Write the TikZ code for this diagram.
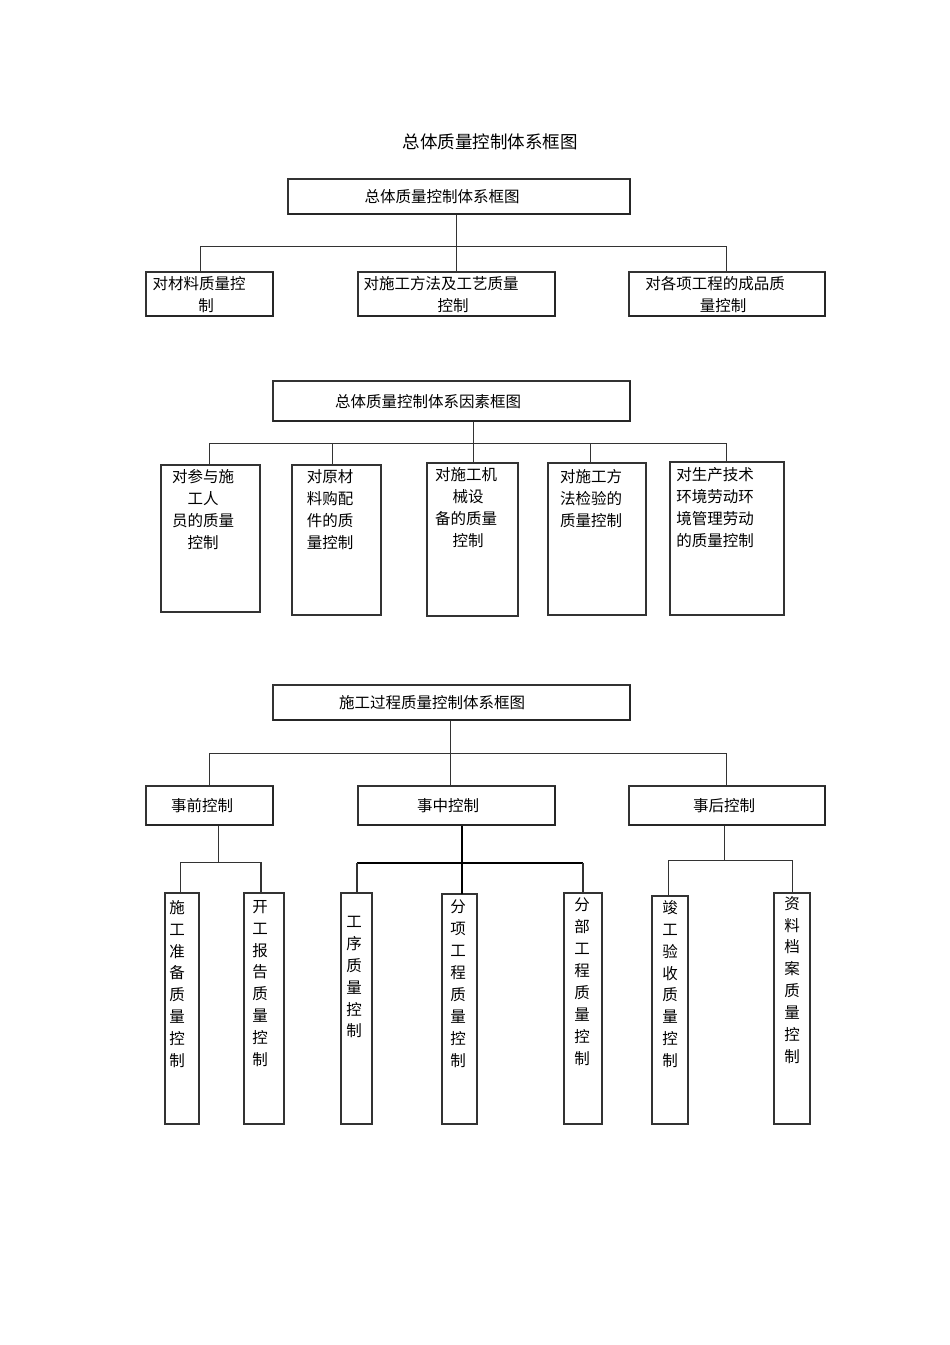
\documentclass[tikz,border=0pt]{standalone}
\usepackage{fontspec}
\newfontfamily\cjk{Noto Sans CJK SC}
\begin{document}
\begin{tikzpicture}[x=1pt,y=-1pt,
  box/.style={draw=black!80, line width=1.1pt, inner sep=0pt, outer sep=0pt},
  txt/.style={font=\cjk\fontsize{15.5}{22}\selectfont, inner sep=0pt, align=center},
  mtxt/.style={txt, anchor=north},
  vtxt/.style={font=\cjk\fontsize{15.5}{21.9}\selectfont, inner sep=0pt, align=center, anchor=north},
  ln/.style={draw=black!80, line width=1pt},
  bold ln/.style={draw=black, line width=2.6pt},
  edge/.style={draw=black!85, line width=2pt}
]
\fill[white] (0,0) rectangle (950,1345);
\useasboundingbox (0,0) rectangle (950,1345);

% title
\node[font=\cjk\fontsize{17.5}{20}\selectfont, inner sep=0pt] (title) at (490,141.5) {总体质量控制体系框图};

% ---------- section 1 ----------
\node[box, minimum width=342pt, minimum height=35pt] (A) at (459,196.5) {};
\node[box, minimum width=127pt, minimum height=44pt] (B1) at (209.5,294) {};
\node[box, minimum width=197pt, minimum height=44pt] (B2) at (456.5,294) {};
\node[box, minimum width=196pt, minimum height=44pt] (B3) at (727,294) {};

\node[txt] (tA) at (442,196.5) {总体质量控制体系框图};
\node[mtxt] (tB1) at (199,276) {对材料质量控\\\hspace*{14pt}制};
\node[mtxt] (tB2) at (441,276) {对施工方法及工艺质量\\\hspace*{24pt}控制};
\node[mtxt] (tB3) at (715,276) {对各项工程的成品质\\\hspace*{16pt}量控制};

\coordinate (j1) at (456,246);
\coordinate (h1l) at (200,246);
\coordinate (h1r) at (726,246);
\draw[ln] (A.south -| j1) -- (B2.north -| j1);
\draw[ln] (B1.north -| h1l) -- (h1l) -- (h1r) -- (B3.north -| h1r);

% ---------- section 2 ----------
\node[box, minimum width=357pt, minimum height=40pt] (C) at (451.5,401) {};
\node[box, minimum width=99pt, minimum height=147pt] (D1) at (210.5,538.5) {};
\node[box, minimum width=89pt, minimum height=150pt] (D2) at (336.5,540) {};
\node[box, minimum width=91pt, minimum height=153pt] (D3) at (472.5,539.5) {};
\node[box, minimum width=98pt, minimum height=152pt] (D4) at (597,539) {};
\node[box, minimum width=114pt, minimum height=153pt] (D5) at (727,538.5) {};

\node[txt] (tC) at (428,401.5) {总体质量控制体系因素框图};
\node[mtxt] (tD1) at (203,469) {对参与施\\工人\\员的质量\\控制};
\node[mtxt] (tD2) at (330,469) {对原材\\料购配\\件的质\\量控制};
\node[mtxt] (tD3) at (466,467) {对施工机\\\hspace*{4pt}械设\\备的质量\\\hspace*{4pt}控制};
\node[mtxt] (tD4) at (591,469) {对施工方\\法检验的\\质量控制};
\node[mtxt] (tD5) at (715,467) {对生产技术\\环境劳动环\\境管理劳动\\的质量控制};

\coordinate (j2) at (473,443);
\coordinate (h2l) at (209,443);
\coordinate (h2r) at (726,443);
\coordinate (d2) at (332,443);
\coordinate (d4) at (590,443);
\draw[ln] (C.south -| j2) -- (D3.north -| j2);
\draw[ln] (D1.north -| h2l) -- (h2l) -- (h2r) -- (D5.north -| h2r);
\draw[ln] (d2) -- (D2.north -| d2);
\draw[ln] (d4) -- (D4.north -| d4);

% ---------- section 3 ----------
\node[box, minimum width=357pt, minimum height=35pt] (E) at (451.5,702.5) {};
\node[box, minimum width=127pt, minimum height=39pt] (F1) at (209.5,805.5) {};
\node[box, minimum width=197pt, minimum height=39pt] (F2) at (456.5,805.5) {};
\node[box, minimum width=196pt, minimum height=39pt] (F3) at (727,805.5) {};

\node[txt] (tE) at (432,702.5) {施工过程质量控制体系框图};
\node[txt] (tF1) at (202,805.5) {事前控制};
\node[txt] (tF2) at (448,805.5) {事中控制};
\node[txt] (tF3) at (724,805.5) {事后控制};

\node[box, minimum width=34pt, minimum height=231pt] (G1) at (182,1008.5) {};
\node[box, minimum width=40pt, minimum height=231pt] (G2) at (264,1008.5) {};
\node[box, minimum width=31pt, minimum height=231pt] (G3) at (356.5,1008.5) {};
\node[box, minimum width=35pt, minimum height=230pt] (G4) at (459.5,1009) {};
\node[box, minimum width=38pt, minimum height=231pt] (G5) at (583,1008.5) {};
\node[box, minimum width=36pt, minimum height=228pt] (G6) at (670,1010) {};
\node[box, minimum width=36pt, minimum height=231pt] (G7) at (792,1008.5) {};

\node[vtxt] (tG1) at (177,900) {施\\工\\准\\备\\质\\量\\控\\制};
\node[vtxt] (tG2) at (260,900) {开\\工\\报\\告\\质\\量\\控\\制};
\node[vtxt] (tG3) at (354,916) {工\\序\\质\\量\\控\\制};
\node[vtxt] (tG4) at (458,900) {分\\项\\工\\程\\质\\量\\控\\制};
\node[vtxt] (tG5) at (582,898) {分\\部\\工\\程\\质\\量\\控\\制};
\node[vtxt] (tG6) at (670,900) {竣\\工\\验\\收\\质\\量\\控\\制};
\node[vtxt] (tG7) at (792,896) {资\\料\\档\\案\\质\\量\\控\\制};

\coordinate (j3) at (450,753);
\coordinate (h3l) at (209,753);
\coordinate (h3r) at (726,753);
\draw[ln] (E.south -| j3) -- (F2.north -| j3);
\draw[ln] (F1.north -| h3l) -- (h3l) -- (h3r) -- (F3.north -| h3r);

\coordinate (k1) at (218,862);
\coordinate (k1l) at (180,862);
\coordinate (k1r) at (261,862);
\draw[ln] (F1.south -| k1) -- (k1);
\draw[ln] (G1.north -| k1l) -- (k1l) -- (k1r);
\draw[ln, line width=1.8pt] (k1r) -- (G2.north -| k1r);

\coordinate (k2) at (462,863);
\coordinate (k2l) at (357,863);
\coordinate (k2r) at (583,863);
\draw[bold ln] (F2.south -| k2) -- (G4.north -| k2);
\draw[bold ln] (k2l) -- (k2r);
\draw[ln, line width=1.4pt] (k2l) -- (G3.north -| k2l);
\draw[ln, line width=1.4pt] (k2r) -- (G5.north -| k2r);

\coordinate (k3) at (724,860);
\coordinate (k3l) at (668,860);
\coordinate (k3r) at (792,860);
\draw[ln] (F3.south -| k3) -- (k3);
\draw[ln] (G6.north -| k3l) -- (k3l) -- (k3r) -- (G7.north -| k3r);

% heavier right/bottom edges
\foreach \n in {A,C,E,B1,B2,B3,F1,F2,F3}
  \draw[edge] (\n.north east) -- (\n.south east) -- (\n.south west);
\end{tikzpicture}
\end{document}
